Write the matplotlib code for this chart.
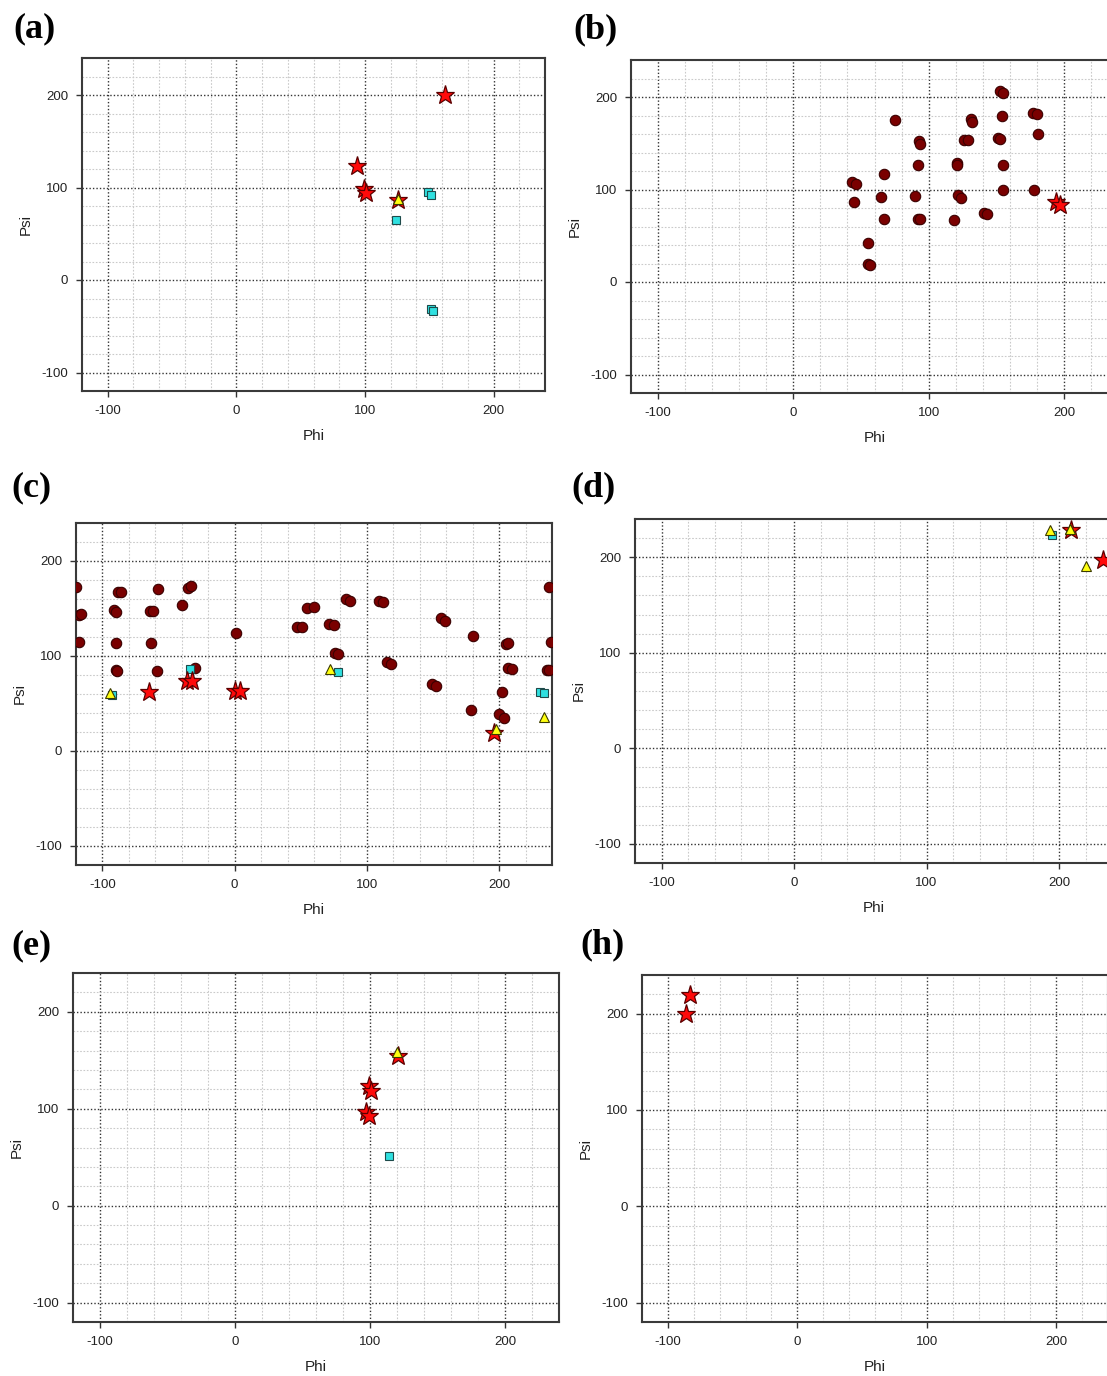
import matplotlib.pyplot as plt
from matplotlib.ticker import MultipleLocator


plt.rcParams["font.family"] = "Liberation Sans"
plt.rcParams["axes.unicode_minus"] = False

FIG_W, FIG_H = 1107, 1376

# (a)
A_STAR_PHI = [162, 94, 99, 101, 126]
A_STAR_PSI = [200, 123, 98, 94, 87]
A_SQ_PHI = [149, 151, 124, 151, 153]
A_SQ_PSI = [95, 92, 65, -31, -33]
A_TRI_PHI = [126]
A_TRI_PSI = [88]

# (b)
B_CIRC_PHI = [153, 155, 75, 131, 132, 154, 177, 180, 181, 93, 94, 126, 129,
              151, 153, 92, 121, 121, 155, 67, 43, 46, 45, 65, 90, 122, 124,
              155, 178, 67, 92, 94, 119, 141, 143, 55, 55, 57]
B_CIRC_PSI = [206, 204, 175, 176, 173, 179, 183, 182, 160, 152, 149, 154, 154,
              156, 155, 127, 129, 126, 126, 117, 108, 106, 87, 92, 93, 94, 91,
              99, 100, 68, 68, 68, 67, 75, 74, 42, 19, 18]
B_STAR_PHI = [194, 197]
B_STAR_PSI = [86, 83]

# (c)
C_CIRC_PHI = [-120, -118, -116, -118, -88, -86, -91, -90, -90, -90, -89, -58,
              -64, -62, -63, -59, -40, -35, -33, -30, 1, 47, 51, 55, 60, 71, 75,
              76, 78, 84, 87, 109, 112, 115, 118, 156, 159, 149, 152, 180, 179,
              202, 200, 204, 205, 207, 207, 210, 238, 239, 236, 238]
C_CIRC_PSI = [173, 143, 144, 115, 167, 167, 148, 146, 114, 85, 84, 170, 147, 147,
              114, 84, 154, 172, 174, 87, 124, 130, 130, 151, 152, 134, 133, 103,
              102, 160, 158, 158, 157, 94, 92, 140, 137, 70, 68, 121, 43, 62,
              39, 35, 113, 114, 87, 86, 173, 115, 85, 85]
C_STAR_PHI = [-65, -36, -32, 0, 4, 196]
C_STAR_PSI = [62, 74, 74, 63, 63, 19]
C_SQ_PHI = [-93, -34, 78, 231, 234]
C_SQ_PSI = [59, 86, 83, 62, 61]
C_TRI_PHI = [-94, 72, 234, 198]
C_TRI_PSI = [61, 86, 36, 23]

# (d)
D_STAR_PHI = [209, 233]
D_STAR_PSI = [229, 197]
D_SQ_PHI = [195]
D_SQ_PSI = [223]
D_TRI_PHI = [193, 208, 220]
D_TRI_PSI = [229, 230, 191]

# (e)
E_STAR_PHI = [99, 101, 97, 99, 121]
E_STAR_PSI = [123, 118, 97, 93, 154]
E_SQ_PHI = [114]
E_SQ_PSI = [51]
E_TRI_PHI = [120]
E_TRI_PSI = [158]

# (h)
H_STAR_PHI = [-83, -86]
H_STAR_PSI = [219, 200]

TICKS = [-100, 0, 100, 200]


def px_axes(fig, left, right, top, bottom):
    # pixel box -> figure fraction
    return fig.add_axes([left / FIG_W, 1 - bottom / FIG_H,
                         (right - left) / FIG_W, (bottom - top) / FIG_H])


def style(ax):
    ax.set_xlim(-120, 240)
    ax.set_ylim(-120, 240)
    ax.set_xticks(TICKS)
    ax.set_yticks(TICKS)
    ax.xaxis.set_minor_locator(MultipleLocator(20))
    ax.yaxis.set_minor_locator(MultipleLocator(20))
    ax.tick_params(which="major", length=4, width=1.0, color="#333333",
                   labelsize=9.5, labelcolor="#222222", pad=6)
    ax.tick_params(which="minor", length=0)
    ax.grid(which="minor", color="#cacaca", linestyle=(0, (1.5, 1.5)), linewidth=0.8)
    ax.grid(which="major", color="#333333", linestyle=(0, (1, 1.5)), linewidth=1.0)
    ax.set_axisbelow(True)
    for sp in ax.spines.values():
        sp.set_color("#3a3a3a")
        sp.set_linewidth(1.5)
    ax.set_xlabel("Phi", fontsize=11, color="#222222", labelpad=9)
    ax.set_ylabel("Psi", fontsize=11, color="#222222", labelpad=6)


def circles(ax, x, y):
    ax.plot(x, y, "o", ms=7.5, mfc="#7a0000", mec="#3a0000", mew=0.8, ls="none", zorder=3)


def squares(ax, x, y):
    ax.plot(x, y, "s", ms=5.5, mfc="#2fe0e0", mec="#1e4a4a", mew=0.8, ls="none", zorder=4)


def stars(ax, x, y):
    ax.plot(x, y, "*", ms=14, mfc="#ff0a0a", mec="#5a0000", mew=0.9, ls="none", zorder=5)


def triangles(ax, x, y):
    ax.plot(x, y, "^", ms=6.5, mfc="#ffff10", mec="#3a3a00", mew=0.8, ls="none", zorder=6)


def label(fig, x, y, text):
    fig.text(x / FIG_W, 1 - y / FIG_H, text, fontsize=26, fontweight="bold",
             family="Liberation Serif", ha="left", va="center")


def main():
    fig = plt.figure(figsize=(FIG_W / 100, FIG_H / 100), dpi=100)

    ax = px_axes(fig, 82, 545, 58, 391)
    style(ax)
    squares(ax, A_SQ_PHI, A_SQ_PSI)
    stars(ax, A_STAR_PHI, A_STAR_PSI)
    triangles(ax, A_TRI_PHI, A_TRI_PSI)
    label(fig, 13, 29, "(a)")

    ax = px_axes(fig, 631, 1118, 60, 393)
    style(ax)
    circles(ax, B_CIRC_PHI, B_CIRC_PSI)
    stars(ax, B_STAR_PHI, B_STAR_PSI)
    label(fig, 573, 30, "(b)")

    ax = px_axes(fig, 76, 552, 523, 865)
    style(ax)
    squares(ax, C_SQ_PHI, C_SQ_PSI)
    circles(ax, C_CIRC_PHI, C_CIRC_PSI)
    stars(ax, C_STAR_PHI, C_STAR_PSI)
    triangles(ax, C_TRI_PHI, C_TRI_PSI)
    label(fig, 11, 488, "(c)")

    ax = px_axes(fig, 635, 1112, 519, 863)
    style(ax)
    triangles(ax, D_TRI_PHI, D_TRI_PSI)
    squares(ax, D_SQ_PHI, D_SQ_PSI)
    stars(ax, D_STAR_PHI, D_STAR_PSI)
    triangles(ax, D_TRI_PHI[1:2], D_TRI_PSI[1:2])
    label(fig, 571, 488, "(d)")

    ax = px_axes(fig, 73, 559, 973, 1322)
    style(ax)
    squares(ax, E_SQ_PHI, E_SQ_PSI)
    stars(ax, E_STAR_PHI, E_STAR_PSI)
    triangles(ax, E_TRI_PHI, E_TRI_PSI)
    label(fig, 11, 946, "(e)")

    ax = px_axes(fig, 642, 1108, 975, 1322)
    style(ax)
    stars(ax, H_STAR_PHI, H_STAR_PSI)
    label(fig, 580, 945, "(h)")

    fig.savefig("out.png", dpi=100)
    plt.close(fig)


if __name__ == "__main__":
    main()
